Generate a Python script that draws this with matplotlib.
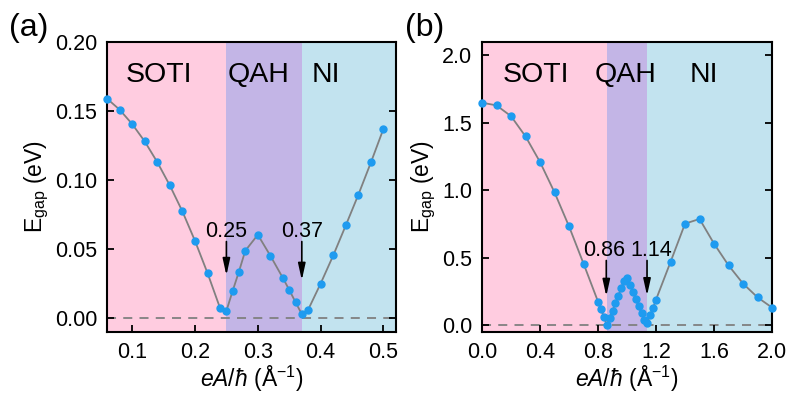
import numpy as np
import matplotlib
matplotlib.use('Agg')
import matplotlib.pyplot as plt

plt.rcParams['font.family'] = ['Liberation Sans', 'DejaVu Sans']
plt.rcParams['mathtext.fontset'] = 'custom'
plt.rcParams['mathtext.rm'] = 'Liberation Sans'
plt.rcParams['mathtext.it'] = 'Liberation Sans:italic'

# panel (a)
xa = [0.06, 0.08, 0.10, 0.12, 0.14, 0.16, 0.18, 0.20, 0.22, 0.24, 0.25, 0.26, 0.27,
      0.28, 0.30, 0.32, 0.34, 0.35, 0.36, 0.37, 0.38, 0.40, 0.42, 0.44, 0.46, 0.48, 0.50]
ya = [0.159, 0.151, 0.1406, 0.128, 0.113, 0.0961, 0.0773, 0.056, 0.0326, 0.0072, 0.0053,
      0.0198, 0.0338, 0.0488, 0.0604, 0.0452, 0.029, 0.0205, 0.0116, 0.0029, 0.006,
      0.0251, 0.0454, 0.0672, 0.0894, 0.1128, 0.1372]

# panel (b)
xb = [0.0, 0.1, 0.2, 0.3, 0.4, 0.5, 0.6, 0.7, 0.8, 0.82, 0.84, 0.86, 0.88, 0.90, 0.92,
      0.94, 0.96, 0.98, 1.00, 1.02, 1.04, 1.06, 1.08, 1.10, 1.12, 1.14, 1.16, 1.18, 1.20,
      1.3, 1.4, 1.5, 1.6, 1.7, 1.8, 1.9, 2.0]
yb = [1.65, 1.63, 1.55, 1.40, 1.21, 0.985, 0.733, 0.457, 0.175, 0.12, 0.063, 0.005,
      0.055, 0.108, 0.163, 0.218, 0.277, 0.331, 0.347, 0.30, 0.248, 0.196, 0.141, 0.09,
      0.04, 0.02, 0.078, 0.131, 0.19, 0.469, 0.753, 0.788, 0.605, 0.444, 0.309, 0.207, 0.131]

pink = '#FFCCE0'
purple = '#C3B5E6'
cyan = '#C2E3EF'
dot = '#1E9BF0'

fig = plt.figure(figsize=(7.91, 4.03), dpi=100)
axa = fig.add_axes([0.1353, 0.1762, 0.3654, 0.7196])
axb = fig.add_axes([0.6094, 0.1762, 0.3666, 0.7196])

# (ax, x, y, xlim, ylim, border1, border2, xticks, xticklabels, yticks, yticklabels,
#  region label x, panel label, arrows: (text, text x, arrow x, text y, arrow start, arrow tip))
panels = [
    (axa, xa, ya, (0.06, 0.52), (-0.01, 0.20), 0.25, 0.37,
     [0.1, 0.2, 0.3, 0.4, 0.5], ['0.1', '0.2', '0.3', '0.4', '0.5'],
     [0.0, 0.05, 0.10, 0.15, 0.20], ['0.00', '0.05', '0.10', '0.15', '0.20'],
     [0.143, 0.301, 0.409],
     [('0.25', 0.249, 0.25, 0.059, 0.0555, 0.031), ('0.37', 0.37, 0.37, 0.059, 0.0555, 0.0275)]),
    (axb, xb, yb, (0.0, 2.0), (-0.05, 2.1), 0.86, 1.14,
     [0.0, 0.4, 0.8, 1.2, 1.6, 2.0], ['0.0', '0.4', '0.8', '1.2', '1.6', '2.0'],
     [0.0, 0.5, 1.0, 1.5, 2.0], ['0.0', '0.5', '1.0', '1.5', '2.0'],
     [0.375, 0.993, 1.528],
     [('0.86', 0.844, 0.857, 0.516, 0.48, 0.215), ('1.14', 1.166, 1.138, 0.516, 0.48, 0.22)]),
]

for ax, x, y, xl, yl, b1, b2, xt, xtl, yt, ytl, lx, arrows in panels:
    ax.axvspan(xl[0], b1, color=pink, lw=0, zorder=0)
    ax.axvspan(b1, b2, color=purple, lw=0, zorder=0)
    ax.axvspan(b2, xl[1], color=cyan, lw=0, zorder=0)
    ax.axhline(0, color='#808080', ls=(0, (5, 4)), lw=1.3, zorder=1)
    ax.plot(x, y, '-', color='#808080', lw=1.3, zorder=2)
    ax.plot(x, y, 'o', color=dot, ms=5, mec=dot, zorder=3, clip_on=False)
    ax.set_xlim(xl)
    ax.set_ylim(yl)
    ax.set_xticks(xt)
    ax.set_xticklabels(xtl)
    ax.set_yticks(yt)
    ax.set_yticklabels(ytl)
    ax.tick_params(direction='in', length=5, width=1.3, labelsize=15.5,
                   right=True, top=False, pad=7)
    for s in ax.spines.values():
        s.set_linewidth(1.5)
    for name, xp in zip(['SOTI', 'QAH', 'NI'], lx):
        ax.text(xp, 0.886, name, transform=ax.get_xaxis_transform(),
                ha='center', va='center', fontsize=20.5)
    for txt, tx, ax_x, ty, start, tip in arrows:
        ax.text(tx, ty, txt, ha='center', va='baseline', fontsize=15.5)
        ax.annotate('', xy=(ax_x, tip), xytext=(ax_x, start),
                    arrowprops=dict(arrowstyle='-|>,head_length=1.0,head_width=0.22',
                                    color='k', lw=1.2, shrinkA=0, shrinkB=0))
    ax.set_xlabel(r'$eA/\hbar$ (Å$^{-1}$)', fontsize=16.5, labelpad=1)
    ax.set_ylabel(r'E$_{\rm gap}$ (eV)', fontsize=16.5, labelpad=3)

fig.text(0.012, 0.93, '(a)', fontsize=23, ha='left', va='center')
fig.text(0.512, 0.93, '(b)', fontsize=23, ha='left', va='center')

fig.savefig('out.png', dpi=100)
